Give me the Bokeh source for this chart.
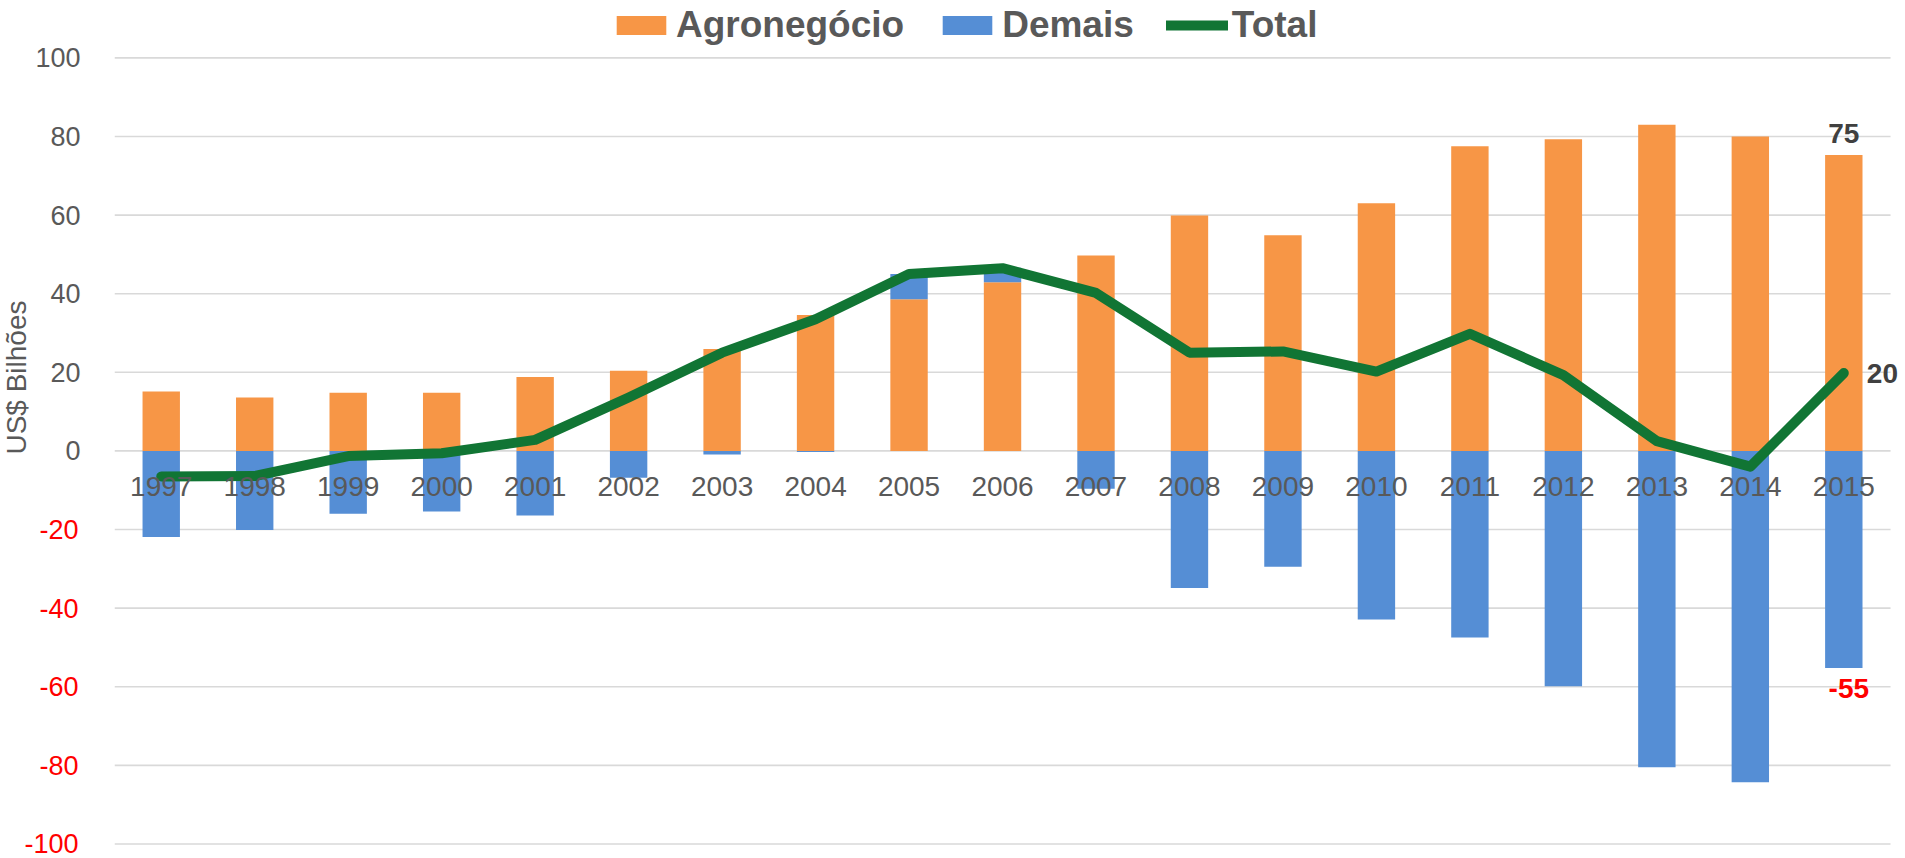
import numpy as np
from bokeh.plotting import figure
from bokeh.models import (Range1d, LinearAxis, FixedTicker, Title, Legend, LegendItem)
from bokeh.core.properties import value
from bokeh.embed import file_html
from bokeh.resources import INLINE

# ---------------- data ----------------
years = ["1997", "1998", "1999", "2000", "2001", "2002", "2003", "2004", "2005", "2006",
         "2007", "2008", "2009", "2010", "2011", "2012", "2013", "2014", "2015"]
agro = [15.1, 13.6, 14.8, 14.8, 18.8, 20.4, 25.9, 34.6, 38.6, 42.9,
        49.7, 59.9, 54.9, 63.0, 77.5, 79.3, 83.0, 80.0, 75.3]
demais = [-21.9, -20.1, -16.0, -15.4, -16.4, -6.8, -0.9, -0.3, 6.4, 3.7,
          -9.6, -34.9, -29.5, -42.9, -47.5, -59.9, -80.5, -84.3, -55.2]
total = [-6.5, -6.4, -1.3, -0.6, 2.8, 13.6, 25.0, 33.5, 45.0, 46.5,
         40.2, 25.0, 25.3, 20.2, 29.8, 19.3, 2.5, -4.0, 19.8]
pos_ticks = [0, 20, 40, 60, 80, 100]
neg_ticks = [-100, -80, -60, -40, -20]

ORANGE = "#F79646"
BLUE = "#558ED5"
GREEN = "#117534"
GRAY = "#595959"
FONT = "Liberation Sans"

n = len(years)
xs = np.arange(n)
a = np.array(agro)
d = np.array(demais)
dem_bottom = np.where(d > 0, a, 0.0)
dem_top = np.where(d > 0, a + d, d)

p = figure(width=1905, height=858, output_backend="svg", toolbar_location=None,
           x_range=Range1d(-0.5, n - 0.5 + 0.16), y_range=Range1d(-103.7, 114.6),
           min_border_left=114, min_border_right=0, min_border_top=0, min_border_bottom=0,
           background_fill_color="white", border_fill_color="white")
p.outline_line_color = None
p.xgrid.grid_line_color = None
p.ygrid.grid_line_color = None

# horizontal gridlines spanning the category area
grid_ticks = neg_ticks + pos_ticks
p.segment(x0=[-0.5] * len(grid_ticks), x1=[n - 0.5] * len(grid_ticks),
          y0=grid_ticks, y1=grid_ticks, line_color="#D9D9D9", line_width=1.6)

r_agro = p.vbar(x=xs, top=agro, bottom=0, width=0.4, fill_color=ORANGE, line_color=None)
r_dem = p.vbar(x=xs, top=dem_top, bottom=dem_bottom, width=0.4, fill_color=BLUE, line_color=None)
r_tot = p.line(x=xs, y=total, line_color=GREEN, line_width=10,
               line_join="round", line_cap="round")

# x axis at zero with year labels
xa = p.xaxis[0]
xa.ticker = FixedTicker(ticks=list(range(n)))
xa.major_label_overrides = {i: y for i, y in enumerate(years)}
xa.fixed_location = 0
xa.axis_line_color = None
xa.major_tick_line_color = None
xa.minor_tick_line_color = None
xa.major_tick_out = 0
xa.major_tick_in = 0
xa.major_label_standoff = 26
xa.major_label_text_font = FONT
xa.major_label_text_font_size = "28px"
xa.major_label_text_color = GRAY

# y axes: positive (gray) and negative (red)
ya = p.yaxis[0]
ya.ticker = FixedTicker(ticks=pos_ticks)
ya2 = LinearAxis(ticker=FixedTicker(ticks=neg_ticks))
ya2.major_label_overrides = {t: str(t) for t in neg_ticks}
p.add_layout(ya2, "left")
for ax, col in ((ya, GRAY), (ya2, "#FF0000")):
    ax.axis_line_color = None
    ax.major_tick_line_color = None
    ax.minor_tick_line_color = None
    ax.major_tick_out = 0
    ax.major_tick_in = 0
    ax.major_label_text_font = FONT
    ax.major_label_text_font_size = "27px"
    ax.major_label_text_color = col
ya.major_label_standoff = 34
ya2.major_label_standoff = -46

# axis title
p.add_layout(Title(text="US$ Bilhões", align="right", offset=300, standoff=-20,
                   vertical_align="bottom", text_font=FONT, text_font_size="28px",
                   text_font_style="normal", text_color=GRAY), "left")

# data labels for the last year
p.text(x=[xs[-1]], y=[agro[-1]], text=[f"{round(agro[-1])}"], text_align="center",
       text_baseline="middle", y_offset=-21, text_font=value(FONT), text_font_size="28px",
       text_font_style="bold", text_color="#404040")
p.text(x=[xs[-1]], y=[total[-1]], text=[f"{round(total[-1])}"], text_align="left",
       text_baseline="middle", x_offset=23, text_font=value(FONT), text_font_size="28px",
       text_font_style="bold", text_color="#404040")
p.text(x=[xs[-1]], y=[demais[-1]], text=[f"{round(demais[-1])}"], text_align="center",
       text_baseline="middle", x_offset=5, y_offset=21, text_font=value(FONT),
       text_font_size="28px", text_font_style="bold", text_color="#FF0000")

legend = Legend(items=[LegendItem(label="Agronegócio", renderers=[r_agro]),
                       LegendItem(label="Demais", renderers=[r_dem]),
                       LegendItem(label="Total", renderers=[r_tot])],
                orientation="horizontal", location=(496, 812),
                glyph_width=62, glyph_height=24, label_height=24, label_standoff=4,
                spacing=32, padding=0, margin=0, border_line_color=None,
                background_fill_alpha=0,
                label_text_font=FONT, label_text_font_size="37px",
                label_text_font_style="bold", label_text_color=GRAY)
p.add_layout(legend)

open("out.html", "w").write(file_html(p, INLINE))
